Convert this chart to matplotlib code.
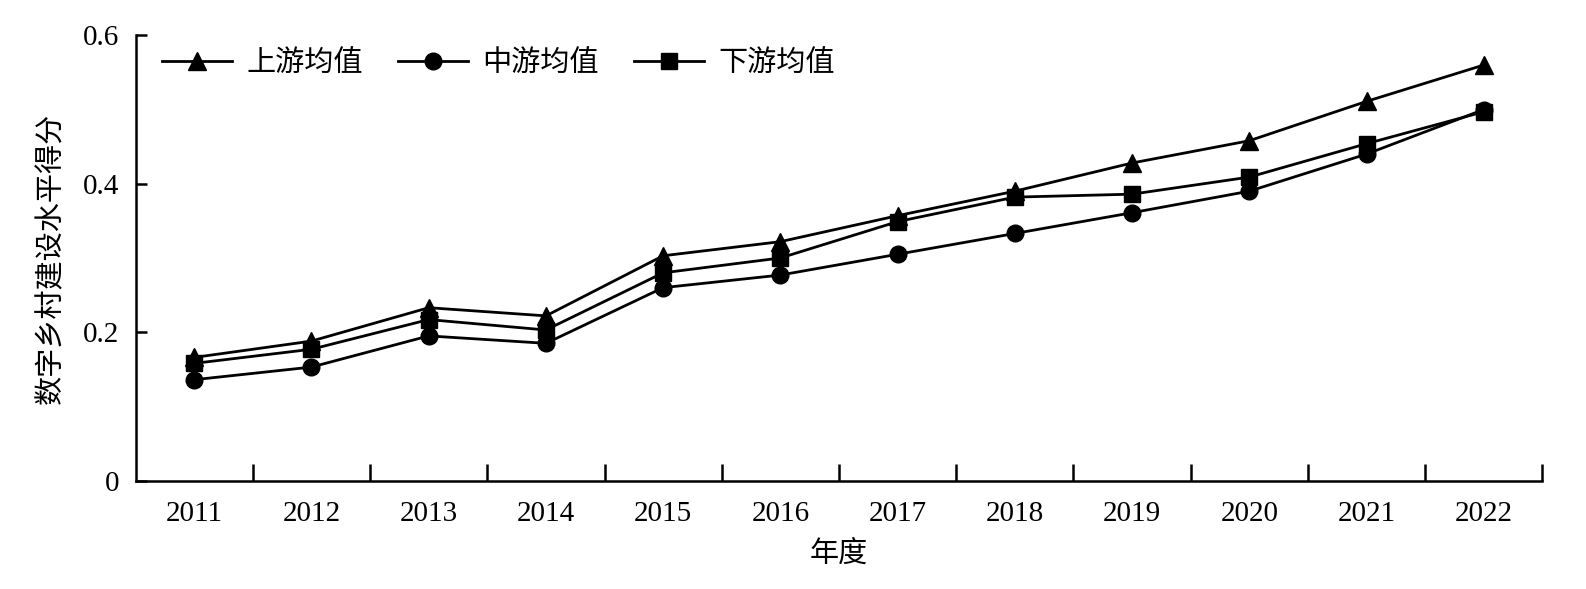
import matplotlib
matplotlib.use("Agg")
import matplotlib.pyplot as plt
from matplotlib.ticker import FixedLocator, NullFormatter
# ----------------------------------------------------------------------------------------

# data
years = ["2011", "2012", "2013", "2014", "2015", "2016",
         "2017", "2018", "2019", "2020", "2021", "2022"]
upstream = [0.166, 0.188, 0.233, 0.222, 0.303, 0.322, 0.357, 0.390, 0.428, 0.458, 0.511, 0.560]
midstream = [0.136, 0.153, 0.195, 0.185, 0.260, 0.277, 0.305, 0.333, 0.361, 0.390, 0.440, 0.500]
downstream = [0.158, 0.177, 0.217, 0.203, 0.280, 0.300, 0.349, 0.382, 0.386, 0.409, 0.454, 0.497]
labels = ["上游均值", "中游均值", "下游均值"]
y_ticks = [0, 0.2, 0.4, 0.6]
y_ticklabels = ["0", "0.2", "0.4", "0.6"]

plt.rcParams["font.family"] = ["Liberation Serif", "Noto Sans CJK SC"]
cjk = ["Noto Sans CJK SC", "Liberation Serif"]

# create lineplot
fig = plt.figure(figsize=(15.86, 5.89), dpi=100)
ax = fig.add_axes([0.0855, 0.184, 0.887, 0.756])
x = range(len(years))
ax.plot(x, upstream, color="black", marker="^", markersize=13, linewidth=2, label=labels[0])
ax.plot(x, midstream, color="black", marker="o", markersize=12, linewidth=2, label=labels[1])
ax.plot(x, downstream, color="black", marker="s", markersize=11, linewidth=2, label=labels[2])

# axes
ax.set_xlim(-0.5, len(years) - 0.5)
ax.set_ylim(0, 0.6)
ax.spines["top"].set_visible(False)
ax.spines["right"].set_visible(False)
ax.spines["left"].set_linewidth(1.8)
ax.spines["bottom"].set_linewidth(1.8)

ax.set_xticks(list(x))
ax.set_xticklabels(years, fontsize=21)
ax.tick_params(axis="x", which="major", length=0, pad=15)
ax.xaxis.set_minor_locator(FixedLocator([i + 0.5 for i in x]))
ax.xaxis.set_minor_formatter(NullFormatter())
ax.tick_params(axis="x", which="minor", direction="in", length=12, width=1.8)

ax.set_yticks(y_ticks)
ax.set_yticklabels(y_ticklabels, fontsize=21)
ax.tick_params(axis="y", direction="in", length=8, width=1.8, pad=12)

# set label-labels
ax.set_xlabel("年度", fontsize=21, family=cjk, labelpad=8)
ax.set_ylabel("数字乡村建设水平得分", fontsize=21, family=cjk, labelpad=12)
ax.legend(loc="upper left", bbox_to_anchor=(0.0, 1.03), ncol=3, frameon=False,
          prop={"family": cjk, "size": 21}, handlelength=2.4, columnspacing=1.2,
          handletextpad=0.5)

fig.savefig("out.png", dpi=100)
